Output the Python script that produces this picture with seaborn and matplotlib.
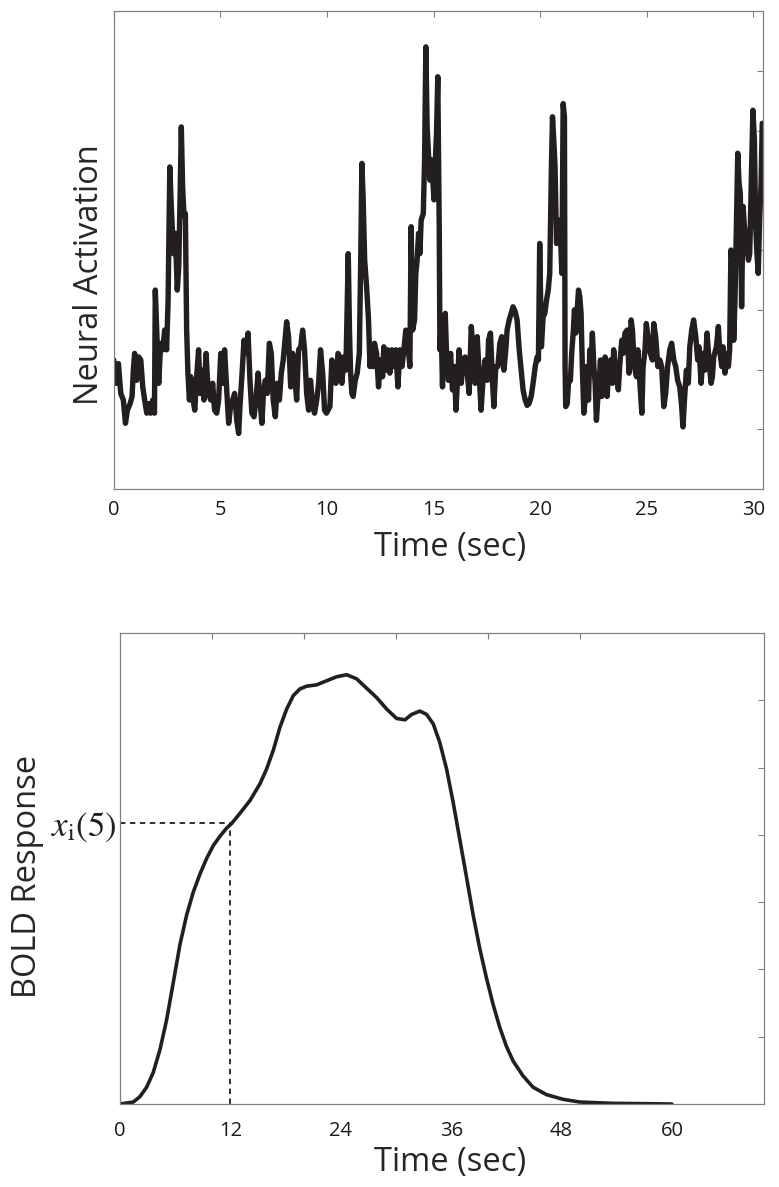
import numpy as np
import pandas as pd
import matplotlib
matplotlib.use("Agg")
import matplotlib.pyplot as plt
import matplotlib.transforms as mtransforms
import seaborn as sns

# --- Panel A: neural activation trace ---
neural_time = [
    0.00, 0.11, 0.22, 0.33, 0.45, 0.55, 0.64, 0.77, 0.86, 0.92, 0.98, 1.08, 1.17, 1.27, 1.36,
    1.45, 1.55, 1.64, 1.73, 1.83, 1.91, 1.95, 2.02, 2.11, 2.20, 2.30, 2.39, 2.48, 2.55, 2.63,
    2.70, 2.80, 2.89, 2.98, 3.05, 3.11, 3.17, 3.23, 3.30, 3.36, 3.42, 3.48, 3.55, 3.61, 3.70,
    3.80, 3.89, 3.98, 4.05, 4.14, 4.23, 4.33, 4.39, 4.45, 4.55, 4.64, 4.73, 4.83, 4.92, 5.02,
    5.11, 5.20, 5.30, 5.39, 5.48, 5.58, 5.67, 5.77, 5.86, 5.92, 6.02, 6.11, 6.20, 6.30, 6.39,
    6.48, 6.58, 6.67, 6.77, 6.86, 6.95, 7.02, 7.11, 7.20, 7.30, 7.39, 7.48, 7.58, 7.67, 7.77,
    7.86, 7.95, 8.05, 8.11, 8.20, 8.30, 8.39, 8.48, 8.58, 8.67, 8.77, 8.86, 8.95, 9.05, 9.14,
    9.23, 9.33, 9.42, 9.52, 9.61, 9.70, 9.80, 9.89, 9.98,
    10.14, 10.23, 10.33, 10.42, 10.52, 10.61, 10.70, 10.80, 10.89, 11.00, 11.06, 11.11, 11.17,
    11.23, 11.33, 11.42, 11.52, 11.58, 11.64, 11.70, 11.77, 11.86, 11.95, 12.02, 12.08, 12.17,
    12.23, 12.33, 12.42, 12.52, 12.61, 12.67, 12.77, 12.86, 12.95, 13.05, 13.14, 13.23, 13.33,
    13.42, 13.52, 13.61, 13.70, 13.80, 13.89, 13.95, 14.02, 14.11, 14.17, 14.23, 14.30, 14.36,
    14.42, 14.52, 14.58, 14.64, 14.70, 14.77, 14.83, 14.89, 14.95, 15.02, 15.08, 15.14, 15.20,
    15.27, 15.30, 15.36, 15.42, 15.48, 15.55, 15.61, 15.70, 15.80, 15.89, 15.98, 16.05, 16.14,
    16.20, 16.30, 16.39, 16.48, 16.58, 16.67, 16.77, 16.86, 16.95, 17.05, 17.14, 17.23, 17.33,
    17.42, 17.52, 17.58, 17.67, 17.77, 17.83, 17.92, 18.02, 18.11, 18.20, 18.30, 18.39, 18.45,
    18.55, 18.64, 18.73, 18.83, 18.92, 19.02, 19.11, 19.20, 19.30, 19.39, 19.48, 19.58, 19.67,
    19.77, 19.86, 19.92, 19.98,
    20.06, 20.14, 20.22, 20.30, 20.38, 20.45, 20.53, 20.58, 20.64, 20.70, 20.77, 20.83, 20.89,
    20.95, 21.02, 21.08, 21.14, 21.17, 21.20, 21.27, 21.33, 21.42, 21.48, 21.55, 21.61, 21.67,
    21.73, 21.80, 21.86, 21.92, 21.98, 22.05, 22.11, 22.17, 22.27, 22.33, 22.39, 22.45, 22.52,
    22.58, 22.64, 22.70, 22.77, 22.83, 22.89, 22.95, 23.05, 23.14, 23.20, 23.30, 23.39, 23.45,
    23.52, 23.58, 23.67, 23.73, 23.83, 23.89, 23.98, 24.08, 24.17, 24.27, 24.33, 24.42, 24.52,
    24.58, 24.67, 24.77, 24.83, 24.92, 24.98, 25.08, 25.17, 25.27, 25.33, 25.42, 25.52, 25.61,
    25.70, 25.80, 25.89, 25.98, 26.08, 26.17, 26.27, 26.36, 26.45, 26.55, 26.64, 26.70, 26.77,
    26.86, 26.95, 27.02, 27.11, 27.20, 27.30, 27.39, 27.45, 27.55, 27.64, 27.73, 27.83, 27.92,
    28.02, 28.08, 28.14, 28.27, 28.36, 28.42, 28.52, 28.58, 28.67, 28.77, 28.83, 28.89, 28.95,
    29.02, 29.08, 29.14, 29.20, 29.27, 29.33, 29.39, 29.45, 29.52, 29.58, 29.64, 29.70, 29.77,
    29.83, 29.92, 29.98, 30.05, 30.11, 30.17, 30.23, 30.30, 30.36, 30.42,
]
neural_value = [
    2.16, 1.77, 2.10, 1.60, 1.49, 1.10, 1.32, 1.43, 1.55, 1.99, 2.27, 1.82, 2.21, 2.16, 1.71,
    1.49, 1.27, 1.43, 1.27, 1.49, 1.27, 3.33, 2.61, 1.77, 2.44, 2.33, 2.66, 2.33, 3.16, 5.39,
    4.73, 3.94, 4.28, 3.33, 3.72, 4.84, 6.06, 5.06, 4.56, 4.61, 2.66, 1.94, 1.49, 1.88, 1.55,
    1.32, 1.88, 2.33, 1.60, 1.99, 1.49, 2.27, 1.88, 1.60, 1.49, 1.77, 1.32, 1.27, 1.49, 2.27,
    1.77, 2.33, 1.66, 1.10, 1.38, 1.49, 1.60, 1.15, 0.93, 1.38, 1.94, 2.49, 2.27, 2.61, 1.82,
    1.27, 1.21, 1.49, 1.94, 1.49, 1.10, 1.60, 1.82, 1.60, 2.44, 2.27, 1.49, 1.21, 1.77, 1.49,
    1.94, 2.16, 2.55, 2.80, 2.55, 1.71, 2.27, 1.94, 1.49, 2.33, 2.38, 2.66, 2.33, 1.60, 1.32,
    1.82, 1.38, 1.27, 1.49, 1.77, 2.33, 1.94, 1.32, 1.27,
    1.38, 2.16, 2.05, 1.77, 2.27, 2.21, 1.77, 2.21, 1.99, 3.94, 2.61, 1.94, 1.60,
    1.55, 1.82, 1.94, 2.27, 3.72, 5.45, 4.84, 3.83, 3.39, 2.83, 2.05, 2.38, 2.05,
    2.44, 2.27, 1.71, 2.16, 1.88, 2.38, 1.99, 2.33, 1.94, 2.33, 2.05, 2.33, 1.71,
    2.33, 2.05, 2.33, 2.66, 2.44, 2.05, 4.39, 2.66, 2.83, 3.61, 3.83, 4.28, 3.94,
    4.50, 4.61, 5.51, 7.40, 6.06, 5.56, 5.17, 5.51, 5.28, 4.84, 5.45, 5.95, 6.90,
    4.28, 2.33, 2.72, 1.71, 2.61, 2.94, 2.27, 1.82, 2.27, 1.66, 2.05, 1.32, 1.94,
    2.33, 1.77, 2.16, 2.21, 1.94, 1.60, 2.72, 2.33, 1.77, 2.55, 1.94, 1.32, 1.88,
    2.16, 1.82, 2.49, 2.61, 1.77, 1.38, 2.05, 2.05, 2.44, 2.55, 1.99, 2.33, 2.66,
    2.83, 2.94, 3.05, 2.97, 2.83, 2.33, 1.99, 1.66, 1.49, 1.40, 1.43, 1.55, 1.77,
    2.05, 2.21, 2.16, 4.11,
    2.38, 2.88, 2.94, 3.16, 3.33, 3.61, 5.39, 6.23, 5.84, 5.39, 4.11, 4.28, 4.50,
    4.28, 3.61, 6.45, 6.23, 2.05, 1.38, 1.43, 1.77, 1.82, 2.27, 2.61, 3.00, 2.61,
    2.94, 3.33, 3.22, 2.94, 2.05, 1.27, 1.49, 2.05, 1.49, 2.33, 2.05, 2.61, 2.05,
    1.77, 1.15, 1.49, 1.77, 2.16, 1.55, 1.94, 2.21, 1.55, 1.88, 2.16, 1.77, 2.33,
    2.05, 1.88, 1.66, 2.05, 2.49, 2.27, 2.61, 2.66, 1.94, 2.83, 2.66, 2.05, 1.88,
    2.33, 1.82, 1.27, 2.05, 2.33, 2.77, 2.49, 2.27, 2.16, 2.77, 2.55, 2.05, 2.16,
    2.05, 1.38, 1.60, 2.05, 2.33, 2.44, 2.16, 2.05, 1.82, 1.71, 1.38, 1.04, 1.49,
    1.99, 1.77, 2.38, 2.66, 2.83, 2.55, 2.16, 2.38, 1.77, 2.27, 1.99, 2.61, 2.16,
    1.77, 1.88, 2.21, 2.38, 2.72, 2.33, 2.05, 2.38, 1.94, 2.27, 2.05, 2.33, 4.00,
    3.72, 2.49, 3.16, 4.28, 5.62, 5.12, 4.95, 3.05, 4.73, 4.39, 4.28, 4.06, 3.83,
    3.94, 5.39, 6.34, 5.84, 4.39, 3.94, 3.61, 4.56, 5.06, 6.12,
]

# --- Panel B: BOLD response ---
bold_time = [
    0.00, 1.45, 2.17, 2.90, 3.62, 4.35, 5.07, 5.80, 6.52, 7.25, 7.97, 8.70, 9.42, 10.14,
    10.87, 11.59, 12.14, 13.04, 14.13, 15.22, 15.94, 16.67, 17.39, 18.12, 18.84, 19.57,
    20.29, 21.38, 22.46, 23.55, 24.64, 25.72, 26.81, 27.90, 28.99, 30.07, 30.98, 31.70,
    32.60, 33.33, 34.05, 34.77, 35.50, 36.22, 36.94, 37.67, 38.39, 39.11, 39.84, 40.56,
    41.28, 42.00, 42.73, 43.80, 44.90, 46.35, 48.16, 49.96, 53.60, 57.20, 60.00,
]
bold_value = [
    0.00, 0.03, 0.11, 0.25, 0.47, 0.81, 1.25, 1.81, 2.37, 2.81, 3.15, 3.42, 3.65, 3.84,
    3.98, 4.10, 4.17, 4.32, 4.51, 4.76, 4.98, 5.26, 5.60, 5.87, 6.07, 6.17,
    6.21, 6.23, 6.29, 6.35, 6.38, 6.32, 6.18, 6.04, 5.87, 5.73, 5.71, 5.79,
    5.84, 5.79, 5.65, 5.37, 4.98, 4.48, 3.93, 3.37, 2.81, 2.31, 1.87, 1.48,
    1.14, 0.86, 0.64, 0.42, 0.25, 0.14, 0.07, 0.03, 0.01, 0.005, 0.00,
]
bold_tick_labels = [0, 12, 24, 36, 48, 60]
marker_time = 12
marker_value = 4.17

neural_df = pd.DataFrame({"time": neural_time, "activation": neural_value})
bold_df = pd.DataFrame({"time": bold_time, "bold": bold_value})

# Style
sns.set_theme(style="white")
plt.rcParams["font.family"] = ["Open Sans", "DejaVu Sans"]
plt.rcParams["mathtext.fontset"] = "stix"

LINE = "#231f20"
FRAME = "#808080"

fig = plt.figure(figsize=(7.79, 11.87), dpi=100)
ax1 = fig.add_axes([0.1460, 0.5880, 0.8339, 0.4027])
ax2 = fig.add_axes([0.1540, 0.0699, 0.8267, 0.3968])


def frame(ax):
    for s in ax.spines.values():
        s.set_color(FRAME)
        s.set_linewidth(0.9)
    ax.tick_params(which="both", direction="in", top=True, right=True,
                   color=FRAME, width=0.8, length=4, labelsize=14.5,
                   labelcolor="#1a1a1a")


# --- top panel ---
sns.lineplot(data=neural_df, x="time", y="activation", ax=ax1, color=LINE,
             linewidth=3.9, sort=False, estimator=None)
ax1.set_xlim(0, 30.47)
ax1.set_ylim(0, 8)
ax1.set_xticks(range(0, 31, 5))
ax1.set_yticks(range(1, 8))
ax1.set_yticklabels([])
frame(ax1)
ax1.tick_params(axis="x", pad=8)
ax1.set_xlabel("Time (sec)", fontsize=23.5)
ax1.set_ylabel("Neural Activation", fontsize=23.5)
ax1.xaxis.set_label_coords(0.517, -0.088)
ax1.yaxis.set_label_coords(-0.012, 0.448)

# --- bottom panel ---
sns.lineplot(data=bold_df, x="time", y="bold", ax=ax2, color=LINE,
             linewidth=2.6, sort=False, estimator=None)
ax2.plot([0, marker_time], [marker_value, marker_value], color=LINE,
         linewidth=1.3, linestyle=(0, (3, 2.5)))
ax2.plot([marker_time, marker_time], [0, marker_value], color=LINE,
         linewidth=1.3, linestyle=(0, (3, 2.5)))
ax2.set_xlim(0, 70)
ax2.set_ylim(0, 7)
ax2.set_xticks(bold_tick_labels)
ax2.set_xticklabels([str(v) for v in bold_tick_labels])
ax2.set_xticks(range(10, 70, 10), minor=True)
ax2.set_yticks(range(1, 7))
ax2.set_yticklabels([])
frame(ax2)
ax2.tick_params(axis="x", which="major", length=0, pad=12)
ax2.set_xlabel("Time (sec)", fontsize=23.5)
ax2.set_ylabel("BOLD Response", fontsize=23.5)
ax2.xaxis.set_label_coords(0.512, -0.090)
ax2.yaxis.set_label_coords(-0.118, 0.484)

trans = mtransforms.blended_transform_factory(ax2.transAxes, ax2.transData)
ax2.text(-0.006, marker_value - 0.05, r"$x_{\mathrm{i}}(5)$", transform=trans,
         ha="right", va="center", fontsize=25, color=LINE)

fig.savefig("out.png", dpi=100)
